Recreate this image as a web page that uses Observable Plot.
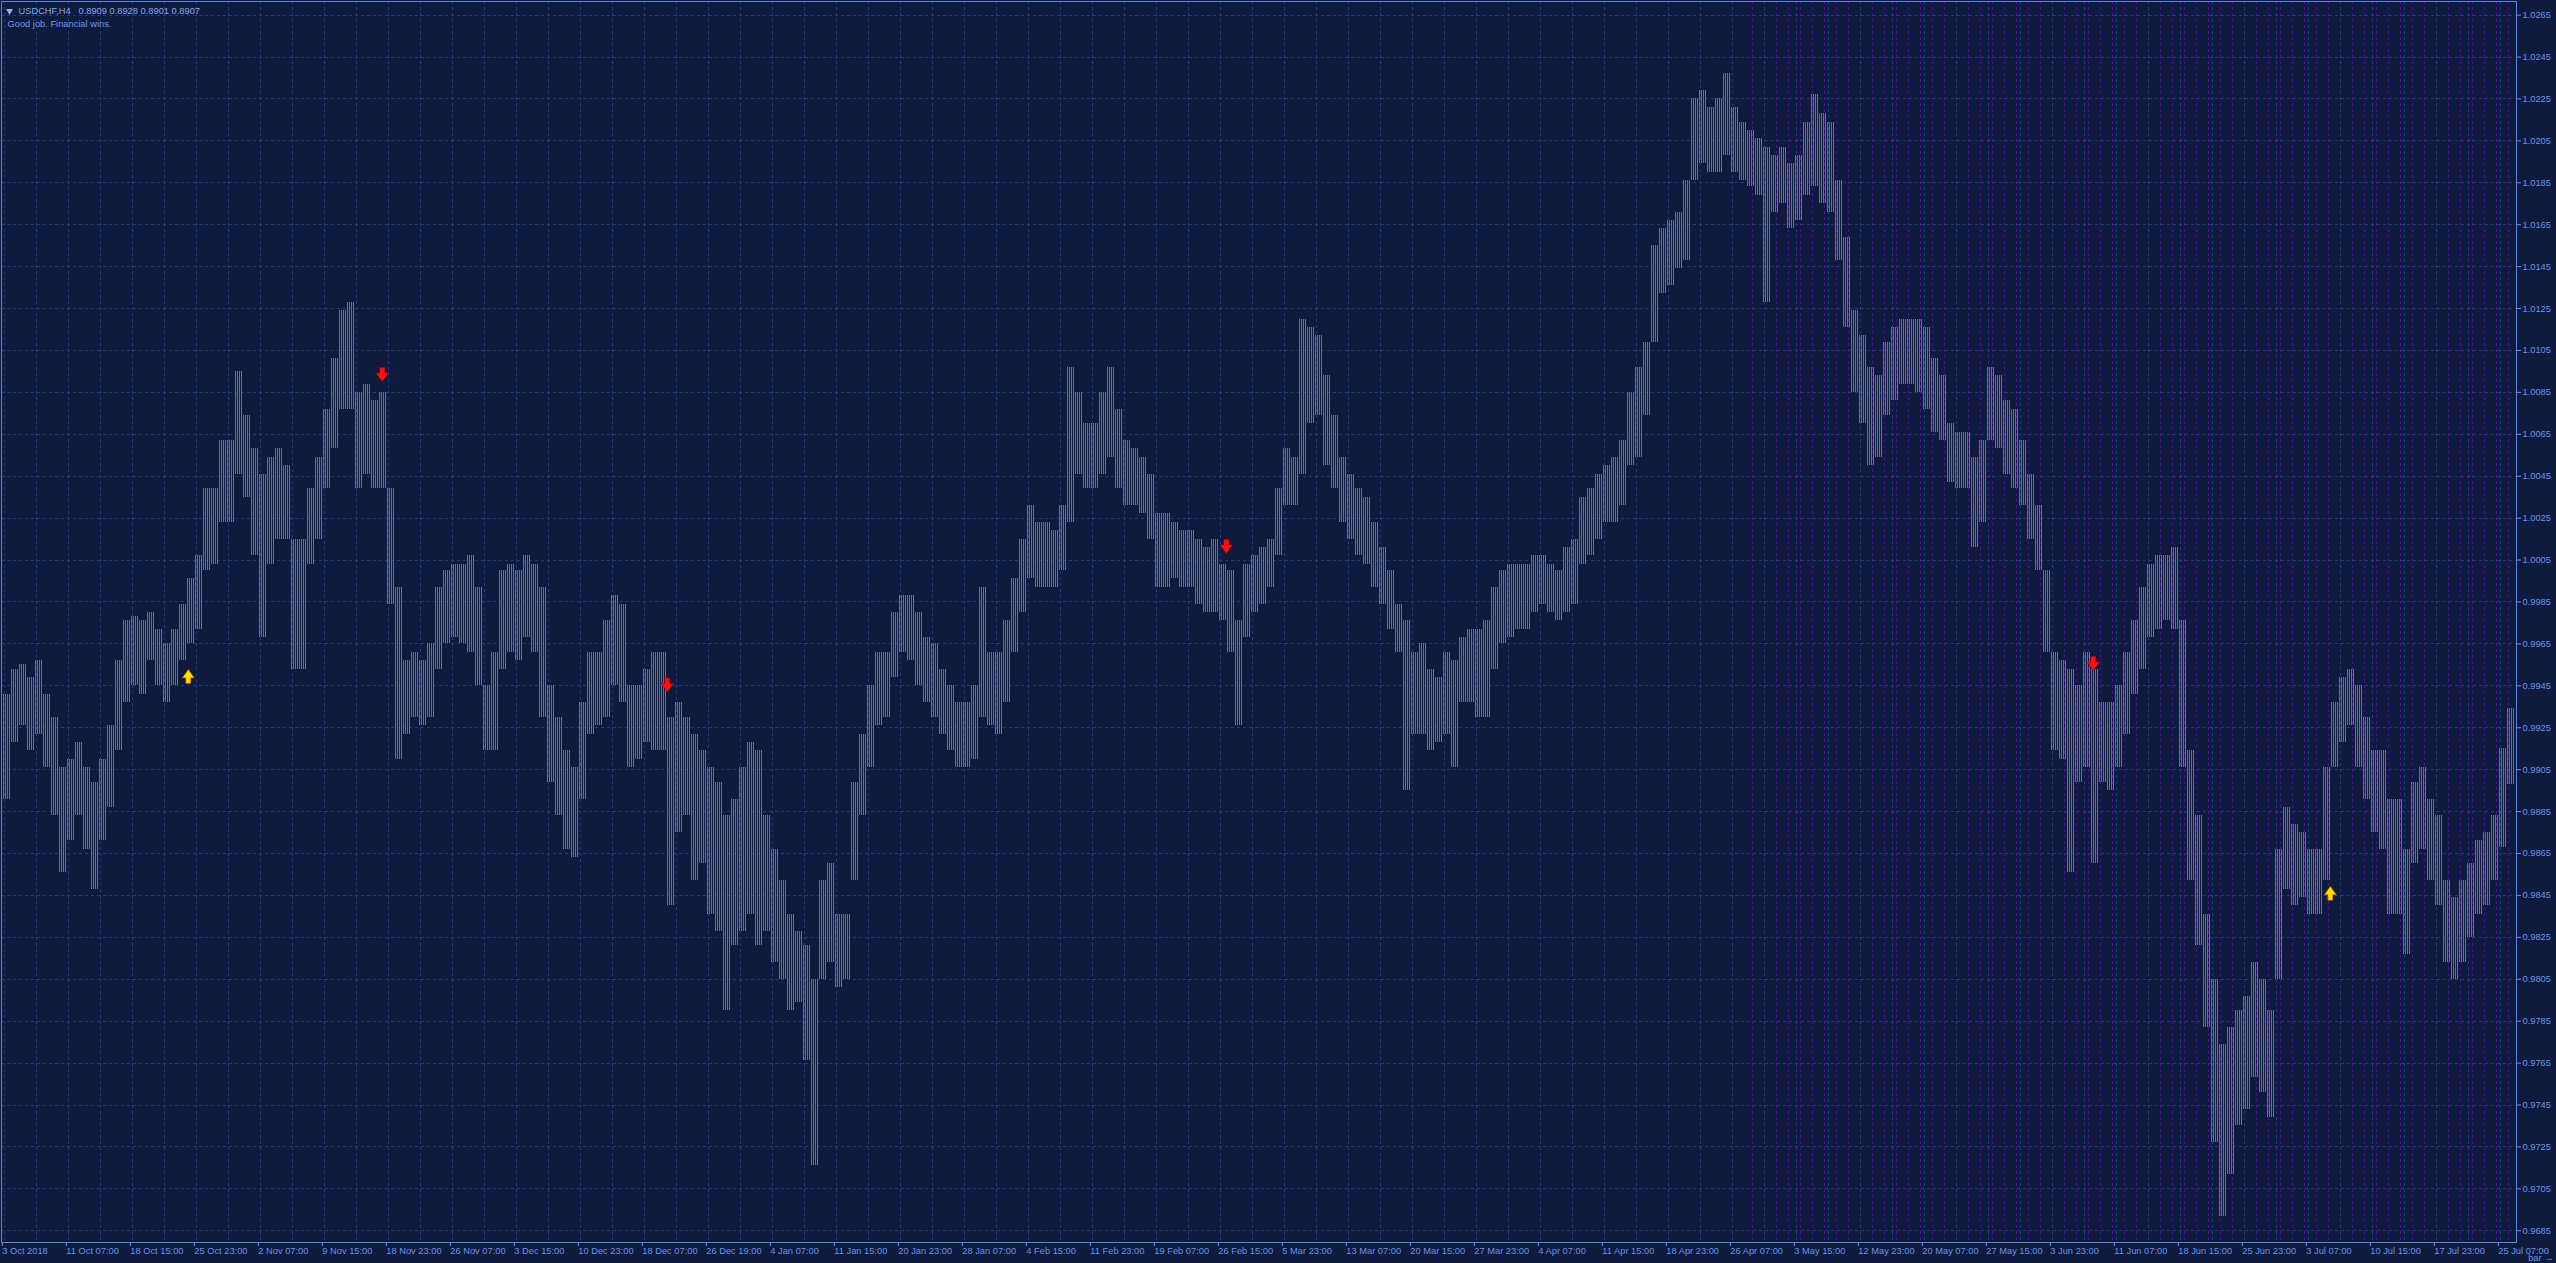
<!DOCTYPE html>
<html><head><meta charset="utf-8">
<script src="https://cdn.jsdelivr.net/npm/d3@7"></script>
<script src="https://cdn.jsdelivr.net/npm/@observablehq/plot@0.6"></script>
<style>
html,body{margin:0;padding:0;background:#0f1b3c;overflow:hidden}
#chart{position:relative;width:2556px;height:1263px}
</style></head><body><div id="chart"></div>
<script>
// ---- data ----
const symbolName = "USDCHF,H4";
const ohlcText = "0.8909 0.8928 0.8901 0.8907";
const commentText = "Good job. Financial wins.";
const chunkSize = 4; // H4 bars per range block
const highs = [
0.9941,0.9953,0.9955,0.9949,0.9957,0.9941,0.9930,0.9906,0.9910,0.9918,
0.9906,0.9899,0.9910,0.9926,0.9957,0.9976,0.9978,0.9976,0.9980,0.9972,
0.9965,0.9972,0.9984,0.9996,1.0007,1.0039,1.0039,1.0062,1.0062,
1.0095,1.0074,1.0058,1.0046,1.0054,1.0058,1.0050,1.0015,1.0015,1.0039,
1.0054,1.0077,1.0101,1.0124,1.0128,1.0085,1.0089,1.0081,1.0085,1.0039,
0.9992,0.9957,0.9961,0.9957,0.9965,0.9992,1.0000,1.0003,1.0003,1.0007,
0.9992,0.9945,0.9961,1.0000,1.0003,1.0000,1.0007,1.0003,0.9992,0.9945,
0.9930,0.9914,0.9906,0.9937,0.9961,0.9961,0.9976,0.9988,0.9984,0.9945,
0.9945,0.9953,0.9961,0.9961,
0.9930,0.9937,0.9930,0.9922,0.9914,0.9906,0.9899,0.9883,0.9891,0.9906,
0.9918,0.9914,0.9883,0.9867,0.9852,0.9836,0.9828,0.9821,0.9805,0.9852,
0.9860,0.9836,0.9836,0.9899,0.9922,0.9945,0.9961,0.9961,0.9980,0.9988,
0.9988,0.9980,0.9968,0.9965,0.9953,0.9945,0.9937,0.9937,0.9945,0.9992,
0.9961,0.9961,0.9976,0.9996,1.0015,1.0031,1.0023,1.0023,1.0019,1.0031,
1.0097,1.0085,1.0070,1.0070,
1.0085,1.0097,1.0077,1.0062,1.0058,1.0054,1.0046,1.0027,1.0027,1.0023,
1.0019,1.0019,1.0015,1.0011,1.0015,1.0003,1.0000,0.9976,1.0003,1.0007,
1.0011,1.0015,1.0039,1.0058,1.0054,1.0120,1.0116,1.0112,1.0093,1.0074,
1.0054,1.0046,1.0039,1.0035,1.0023,1.0011,1.0000,0.9984,0.9976,0.9961,
0.9965,0.9953,0.9949,0.9961,0.9957,0.9968,0.9972,0.9972,0.9976,0.9992,
1.0000,1.0003,1.0003,1.0003,
1.0007,1.0007,1.0003,1.0000,1.0011,1.0015,1.0035,1.0039,1.0046,1.0050,
1.0054,1.0062,1.0085,1.0097,1.0109,1.0155,1.0163,1.0167,1.0171,1.0186,
1.0225,1.0229,1.0221,1.0225,1.0237,1.0221,1.0214,1.0210,1.0206,1.0202,
1.0198,1.0202,1.0194,1.0198,1.0214,1.0227,1.0218,1.0214,1.0186,1.0159,
1.0124,1.0112,1.0097,1.0093,1.0109,1.0116,1.0120,1.0120,1.0120,1.0116,
1.0101,1.0093,1.0070,1.0066,1.0066,
1.0054,1.0062,1.0097,1.0093,1.0081,1.0077,1.0062,1.0046,1.0031,1.0000,
0.9961,0.9957,0.9953,0.9945,0.9961,0.9953,0.9937,0.9937,0.9945,0.9961,
0.9976,0.9992,1.0003,1.0007,1.0007,1.0011,0.9976,0.9914,0.9883,0.9836,
0.9805,0.9774,0.9782,0.9790,0.9797,0.9813,0.9805,0.9790,0.9867,0.9887,
0.9879,0.9875,0.9867,0.9867,0.9906,0.9937,0.9949,0.9953,0.9945,0.9930,
0.9914,0.9914,0.9891,0.9891,
0.9867,0.9899,0.9906,0.9891,0.9883,0.9852,0.9844,0.9852,0.9860,0.9871,
0.9875,0.9883,0.9915,0.9934];
const lows = [
0.9891,0.9918,0.9926,0.9914,0.9922,0.9906,0.9883,0.9856,0.9871,0.9883,
0.9867,0.9848,0.9871,0.9887,0.9914,0.9937,0.9945,0.9941,0.9957,0.9945,
0.9937,0.9945,0.9957,0.9965,0.9972,1.0000,1.0003,1.0023,1.0023,
1.0046,1.0035,1.0007,0.9968,1.0003,1.0015,1.0015,0.9953,0.9953,1.0003,
1.0015,1.0039,1.0058,1.0077,1.0077,1.0039,1.0046,1.0039,1.0039,0.9984,
0.9910,0.9922,0.9930,0.9926,0.9930,0.9953,0.9965,0.9968,0.9965,0.9961,
0.9945,0.9914,0.9914,0.9953,0.9961,0.9957,0.9968,0.9961,0.9930,0.9899,
0.9883,0.9867,0.9863,0.9891,0.9922,0.9926,0.9930,0.9945,0.9937,0.9906,
0.9910,0.9918,0.9914,0.9914,
0.9840,0.9875,0.9883,0.9852,0.9860,0.9836,0.9828,0.9790,0.9821,0.9828,
0.9836,0.9821,0.9828,0.9813,0.9805,0.9790,0.9794,0.9766,0.9716,0.9805,
0.9813,0.9801,0.9805,0.9852,0.9883,0.9906,0.9926,0.9930,0.9949,0.9961,
0.9957,0.9945,0.9937,0.9930,0.9922,0.9914,0.9906,0.9906,0.9910,0.9930,
0.9926,0.9922,0.9937,0.9961,0.9980,0.9996,0.9992,0.9992,0.9992,1.0000,
1.0023,1.0046,1.0039,1.0039,
1.0046,1.0054,1.0039,1.0031,1.0031,1.0027,1.0015,0.9992,0.9992,0.9996,
0.9992,0.9992,0.9984,0.9980,0.9980,0.9976,0.9961,0.9926,0.9968,0.9980,
0.9984,0.9992,1.0007,1.0031,1.0031,1.0046,1.0070,1.0074,1.0050,1.0039,
1.0023,1.0015,1.0007,1.0003,0.9992,0.9984,0.9972,0.9961,0.9895,0.9922,
0.9922,0.9914,0.9918,0.9922,0.9906,0.9937,0.9937,0.9930,0.9930,0.9953,
0.9965,0.9968,0.9972,0.9972,
0.9980,0.9984,0.9980,0.9976,0.9980,0.9984,1.0003,1.0007,1.0015,1.0023,
1.0023,1.0031,1.0050,1.0054,1.0074,1.0109,1.0132,1.0136,1.0144,1.0148,
1.0186,1.0194,1.0190,1.0190,1.0198,1.0190,1.0186,1.0183,1.0179,1.0128,
1.0171,1.0175,1.0163,1.0167,1.0179,1.0183,1.0175,1.0171,1.0148,1.0116,
1.0085,1.0070,1.0050,1.0054,1.0074,1.0081,1.0089,1.0089,1.0085,1.0077,
1.0066,1.0062,1.0042,1.0039,1.0039,
1.0011,1.0023,1.0062,1.0058,1.0046,1.0039,1.0031,1.0015,1.0000,0.9961,
0.9914,0.9910,0.9856,0.9899,0.9906,0.9860,0.9899,0.9895,0.9906,0.9922,
0.9941,0.9953,0.9968,0.9972,0.9976,0.9972,0.9906,0.9852,0.9821,0.9782,
0.9727,0.9692,0.9712,0.9735,0.9743,0.9758,0.9751,0.9739,0.9805,0.9848,
0.9840,0.9844,0.9836,0.9836,0.9852,0.9906,0.9918,0.9926,0.9906,0.9891,
0.9875,0.9867,0.9836,0.9836,
0.9817,0.9860,0.9867,0.9852,0.9840,0.9813,0.9805,0.9813,0.9825,0.9836,
0.9840,0.9852,0.9868,0.9898];
const priceTicks = [0.9685,0.9705,0.9725,0.9745,0.9765,0.9785,0.9805,0.9825,0.9845,0.9865,
0.9885,0.9905,0.9925,0.9945,0.9965,0.9985,1.0005,1.0025,1.0045,1.0065,
1.0085,1.0105,1.0125,1.0145,1.0165,1.0185,1.0205,1.0225,1.0245,1.0265];
const dateLabels = ["3 Oct 2018","11 Oct 07:00","18 Oct 15:00","25 Oct 23:00","2 Nov 07:00","9 Nov 15:00",
"18 Nov 23:00","26 Nov 07:00","3 Dec 15:00","10 Dec 23:00","18 Dec 07:00","26 Dec 19:00","4 Jan 07:00",
"11 Jan 15:00","20 Jan 23:00","28 Jan 07:00","4 Feb 15:00","11 Feb 23:00","19 Feb 07:00","26 Feb 15:00",
"5 Mar 23:00","13 Mar 07:00","20 Mar 15:00","27 Mar 23:00","4 Apr 07:00","11 Apr 15:00","18 Apr 23:00",
"26 Apr 07:00","3 May 15:00","12 May 23:00","20 May 07:00","27 May 15:00","3 Jun 23:00","11 Jun 07:00",
"18 Jun 15:00","25 Jun 23:00","3 Jul 07:00","10 Jul 15:00","17 Jul 23:00","25 Jul 07:00"];
const barsPerLabel = 32;
const upSignalBars = [92, 1163];
const upSignalPrices = [0.99495, 0.98460];
const downSignalBars = [189, 331.5, 611, 1044.5];
const downSignalPrices = [1.00935, 0.99454, 1.00115, 0.99556];
const separatorStartBar = 874; // daily separators shown on the recent part
const totalBars = lows.length * chunkSize;

// ---- derived tables ----
const blocks = lows.map((lo, i) => ({b0: i * chunkSize, b1: i * chunkSize + chunkSize - 1, lo, hi: highs[i]}));
const labelBars = dateLabels.map((_, i) => i * barsPerLabel);
const labelOf = new Map(labelBars.map((b, i) => [b, dateLabels[i]]));
const gridBars = d3.range(0, totalBars, barsPerLabel / 2);
const sepBars = d3.range(separatorStartBar, totalBars, 6);
const ups = upSignalBars.map((b, i) => ({bar: b, price: upSignalPrices[i]}));
const downs = downSignalBars.map((b, i) => ({bar: b, price: downSignalPrices[i]}));

const downArrow = {draw(c){ c.moveTo(-2.5,-7); c.lineTo(2.5,-7); c.lineTo(2.5,-1.5); c.lineTo(6.2,-1.5); c.lineTo(0,7); c.lineTo(-6.2,-1.5); c.lineTo(-2.5,-1.5); c.closePath(); }};
const upArrow = {draw(c){ c.moveTo(-2.5,7); c.lineTo(2.5,7); c.lineTo(2.5,1.5); c.lineTo(6,1.5); c.lineTo(0,-7); c.lineTo(-6,1.5); c.lineTo(-2.5,1.5); c.closePath(); }};

const textColor = "#6b93ea";
const gridColor = "#1e3b85";

const svg = Plot.plot({
  width: 2556, height: 1263,
  marginLeft: 1, marginRight: 40, marginTop: 1, marginBottom: 21,
  x: {type: "linear", domain: [-1.4, 1256.1], axis: null},
  y: {domain: [0.96794, 1.02715], axis: null},
  style: {background: "#0f1b3c", fontFamily: "'Liberation Sans', Arial, sans-serif", fontSize: "9.3px", color: textColor},
  marks: [
    Plot.ruleX(sepBars, {x: d => d, stroke: "#4a1290", strokeDasharray: "3,3", shapeRendering: "crispEdges"}),
    Plot.ruleX(gridBars, {x: d => d, stroke: gridColor, strokeDasharray: "3,3", shapeRendering: "crispEdges"}),
    Plot.ruleY(priceTicks, {y: d => d, stroke: gridColor, strokeDasharray: "3,3", shapeRendering: "crispEdges"}),
    Plot.rect(blocks, {x1: d => d.b0 - 0.5, x2: d => d.b1 + 0.5, y1: "lo", y2: "hi", fill: "url(#barpat)", shapeRendering: "crispEdges"}),
    Plot.frame({stroke: "#5d84de", shapeRendering: "crispEdges"}),
    Plot.axisY(priceTicks, {anchor: "right", tickSize: 4, tickPadding: 2, tickFormat: d => d.toFixed(4), color: textColor, fontVariant: "normal"}),
    Plot.axisX(labelBars, {anchor: "bottom", tickSize: 4, tickPadding: 1, tickFormat: d => labelOf.get(d), textAnchor: "start", dx: -2, color: textColor, fontVariant: "normal"}),
    Plot.dot(ups, {x: "bar", y: "price", symbol: upArrow, r: 5, fill: "#ffe100", stroke: "#c8420c", strokeWidth: 0.7}),
    Plot.dot(downs, {x: "bar", y: "price", symbol: downArrow, r: 5, fill: "#ff1010", stroke: "#b00000", strokeWidth: 0.6}),
    Plot.dot([0], {frameAnchor: "top-left", dx: 8, dy: 9.5, symbol: "triangle", rotate: 180, r: 2.6, fill: "#8fb0f4", stroke: "none"}),
    Plot.text([symbolName], {frameAnchor: "top-left", dx: 17, dy: 10, lineAnchor: "middle", textAnchor: "start", fill: "#84a8f2"}),
    Plot.text([ohlcText], {frameAnchor: "top-left", dx: 77, dy: 10, lineAnchor: "middle", textAnchor: "start", fill: "#84a8f2"}),
    Plot.text([commentText], {frameAnchor: "top-left", dx: 6, dy: 22.5, lineAnchor: "middle", textAnchor: "start", fill: "#6f99ee"})
  ]
});

const defs = d3.select(svg).insert("defs", ":first-child");
const pat = defs.append("pattern").attr("id", "barpat").attr("patternUnits", "userSpaceOnUse")
  .attr("x", 1).attr("y", 0).attr("width", 2).attr("height", 10);
pat.append("rect").attr("x", 0).attr("y", 0).attr("width", 1).attr("height", 10).attr("fill", "#4a73d6");

document.getElementById("chart").appendChild(svg);
</script>
</body></html>
